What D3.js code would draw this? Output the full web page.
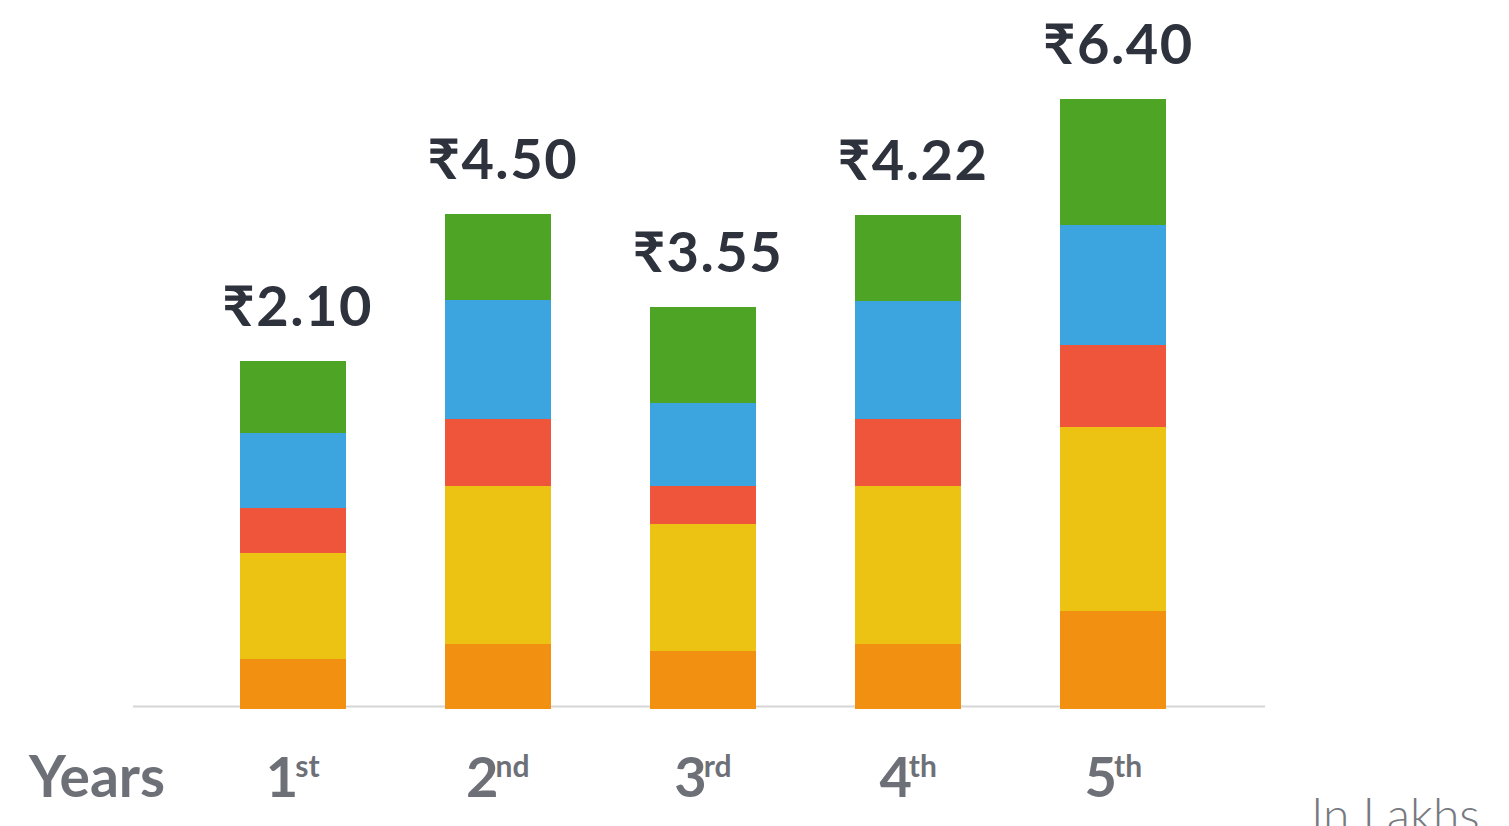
<!DOCTYPE html>
<html>
<head>
<meta charset="utf-8">
<script src="https://cdn.jsdelivr.net/npm/d3@7"></script>
<style>
  html, body { margin: 0; padding: 0; background: #ffffff; overflow: hidden; }
  svg { display: block; }
</style>
</head>
<body>
<div id="chart"></div>
<script>
// ---- data ----
const years = ["1", "2", "3", "4", "5"];
const suffixes = ["st", "nd", "rd", "th", "th"];
const totalLabels = ["₹2.10", "₹4.50", "₹3.55", "₹4.22", "₹6.40"];
const seriesKeys = ["s1", "s2", "s3", "s4", "s5"];
const s1 = [5.0, 6.5, 5.8, 6.5, 9.8];    // orange (bottom)
const s2 = [10.6, 15.8, 12.7, 15.8, 18.4]; // yellow
const s3 = [4.5, 6.7, 3.8, 6.7, 8.2];    // red
const s4 = [7.5, 11.9, 8.3, 11.8, 12.0]; // blue
const s5 = [7.2, 8.6, 9.6, 8.6, 12.6];   // green (top)
const axisTitle = "Years";
const unitNote = "In Lakhs";

// ---- styles ----
const colors = { s1: "#F29111", s2: "#ECC312", s3: "#EF553B", s4: "#3CA5DF", s5: "#4EA425" };
const W = 1509, H = 826;

const rows = years.map((yr, i) => ({ year: yr, s1: s1[i], s2: s2[i], s3: s3[i], s4: s4[i], s5: s5[i] }));
const stacked = d3.stack().keys(seriesKeys)(rows);

const svg = d3.select("#chart").append("svg").attr("width", W).attr("height", H);

const x = d3.scaleBand().domain(years).range([137, 1269]).paddingInner(0.483).paddingOuter(0.5);
const y = d3.scaleLinear().domain([0, 61]).range([709, 99]);

// baseline
svg.append("line")
  .attr("x1", 133).attr("x2", 1265)
  .attr("y1", 706.5).attr("y2", 706.5)
  .attr("stroke", "#d6d6d6").attr("stroke-width", 2);

// bars
svg.append("g").selectAll("g").data(stacked).join("g")
  .attr("fill", d => colors[d.key])
  .selectAll("rect").data(d => d).join("rect")
  .attr("x", d => x(d.data.year))
  .attr("width", x.bandwidth())
  .attr("y", d => y(d[1]))
  .attr("height", d => y(d[0]) - y(d[1]))
  .attr("shape-rendering", "crispEdges");

// total labels
const topLayer = stacked[stacked.length - 1];
svg.append("g").selectAll("text").data(topLayer).join("text")
  .attr("x", (d, i) => x(years[i]) + x.bandwidth() / 2 + 5)
  .attr("y", d => y(d[1]) - 35)
  .attr("text-anchor", "middle")
  .attr("font-family", "Lato, 'Open Sans', sans-serif")
  .attr("font-weight", 700)
  .attr("font-size", 56)
  .attr("letter-spacing", 1.5)
  .attr("fill", "#2E323D")
  .text((d, i) => totalLabels[i]);

// x axis
const axisG = svg.append("g")
  .attr("transform", "translate(0,797)")
  .call(d3.axisBottom(x).tickSize(0).tickPadding(0));
axisG.select(".domain").remove();
axisG.selectAll(".tick text")
  .attr("y", 0).attr("dy", 0)
  .attr("font-family", "Lato, 'Open Sans', sans-serif")
  .attr("font-weight", 700)
  .attr("font-size", 56)
  .attr("fill", "#6E7078")
  .attr("text-anchor", "middle")
  .each(function (d, i) {
    const t = d3.select(this);
    t.text(null);
    t.append("tspan").text(d);
    t.append("tspan").attr("font-size", 30).attr("dy", -20).attr("dx", -3).text(suffixes[i]);
  });

// axis title
svg.append("text")
  .attr("x", 29).attr("y", 797)
  .attr("font-family", "Lato, 'Open Sans', sans-serif")
  .attr("font-weight", 700)
  .attr("font-size", 57)
  .attr("fill", "#6E7078")
  .text(axisTitle);

// unit note
svg.append("text")
  .attr("x", 1311).attr("y", 832)
  .attr("font-family", "Lato, 'Open Sans', sans-serif")
  .attr("font-weight", 300)
  .attr("font-size", 48)
  .attr("fill", "#777A80")
  .text(unitNote);
</script>
</body>
</html>
